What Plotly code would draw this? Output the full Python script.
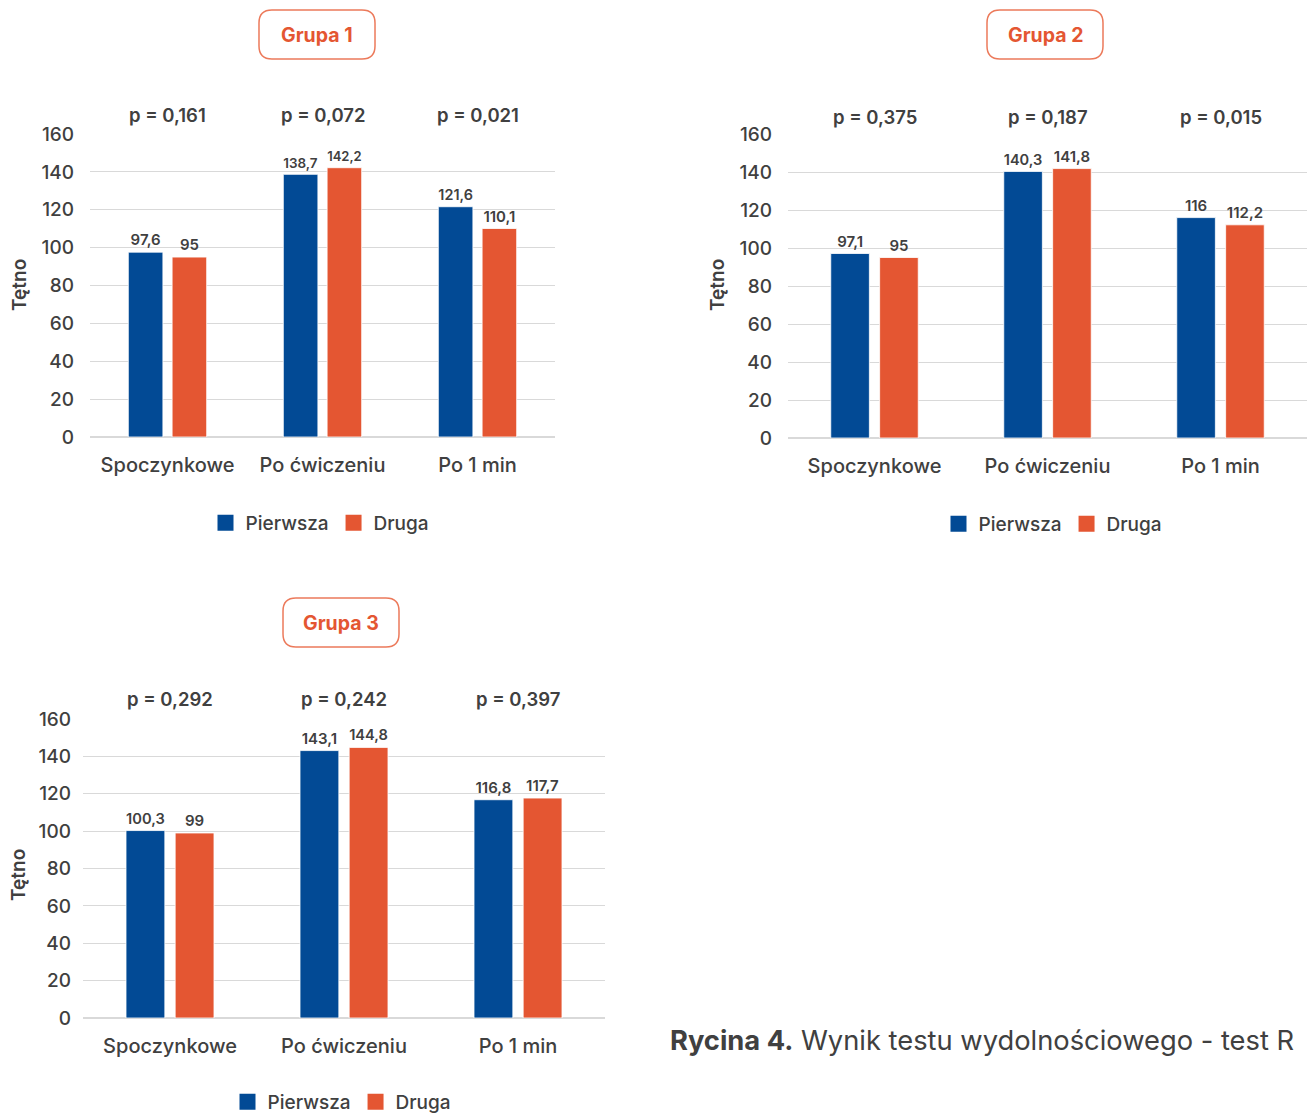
import plotly.graph_objects as go

W, H = 1307, 1113

categories = ["Spoczynkowe", "Po ćwiczeniu", "Po 1 min"]
series_names = ["Pierwsza", "Druga"]

g1_first = [97.6, 138.7, 121.6]
g1_second = [95, 142.2, 110.1]
g2_first = [97.1, 140.3, 116]
g2_second = [95, 141.8, 112.2]
g3_first = [100.3, 143.1, 116.8]
g3_second = [99, 144.8, 117.7]

p1 = ["0,161", "0,072", "0,021"]
p2 = ["0,375", "0,187", "0,015"]
p3 = ["0,292", "0,242", "0,397"]

group_titles = ["Grupa 1", "Grupa 2", "Grupa 3"]
y_ticks = [0, 20, 40, 60, 80, 100, 120, 140, 160]
y_title = "Tętno"
caption_bold = "Rycina 4."
caption_rest = " Wynik testu wydolnościowego - test R"

BLUE = "#024A95"
ORANGE = "#E45632"
TXT = "#404040"
GRID = "#D9D9D9"
FONT = "Inter"


def fmt(v):
    s = ("%g" % v)
    return s.replace(".", ",")


def px_x(p):
    return p / W


def px_y(p):
    return 1 - p / H


def rrect(x0, y0, x1, y1, r):
    pts = [
        ("M", [(x0 + r, y0)]),
        ("L", [(x1 - r, y0)]),
        ("Q", [(x1, y0), (x1, y0 + r)]),
        ("L", [(x1, y1 - r)]),
        ("Q", [(x1, y1), (x1 - r, y1)]),
        ("L", [(x0 + r, y1)]),
        ("Q", [(x0, y1), (x0, y1 - r)]),
        ("L", [(x0, y0 + r)]),
        ("Q", [(x0, y0), (x0 + r, y0)]),
    ]
    s = ""
    for cmd, cs in pts:
        s += cmd + " " + " ".join("%.5f,%.5f" % (px_x(a), px_y(b)) for a, b in cs) + " "
    return s + "Z"


panels = [
    dict(first=g1_first, second=g1_second, p=p1, title=group_titles[0],
         xd=(90, 555), yd=(437, 134), box=(259, 10, 375, 59), py=115, ystand=15,
         ytitle=(19, 285), legend="legend", leg=(320, 523), xs="x", ys="y", sfx=""),
    dict(first=g2_first, second=g2_second, p=p2, title=group_titles[1],
         xd=(788, 1307), yd=(438, 134), box=(987, 10, 1103, 59), py=117, ystand=15,
         ytitle=(717, 285), legend="legend2", leg=(1053, 524), xs="x2", ys="y2", sfx="2"),
    dict(first=g3_first, second=g3_second, p=p3, title=group_titles[2],
         xd=(83, 605), yd=(1018, 719), box=(283, 598, 399, 647), py=699, ystand=11,
         ytitle=(18, 875), legend="legend3", leg=(342, 1102), xs="x3", ys="y3", sfx="3"),
]

fig = go.Figure()
shapes = []
annotations = []
layout_extra = {}

for pn in panels:
    for name, vals, col in ((series_names[0], pn["first"], BLUE), (series_names[1], pn["second"], ORANGE)):
        fig.add_trace(go.Bar(
            x=categories, y=vals, name=name, marker=dict(color=col, line=dict(color="white", width=0.8)),
            text=[fmt(v) for v in vals], textposition="outside", cliponaxis=False,
            textfont=dict(family=FONT, size=15, color=TXT, weight=600),
            xaxis=pn["xs"], yaxis=pn["ys"], showlegend=False, hoverinfo="x+y+name",
        ))
        fig.add_trace(go.Scatter(
            x=[None], y=[None], mode="markers", name=name,
            marker=dict(symbol="square", size=16, color=col),
            xaxis=pn["xs"], yaxis=pn["ys"], legend=pn["legend"], showlegend=True,
        ))
    xdom = [px_x(pn["xd"][0]), px_x(pn["xd"][1])]
    ydom = [px_y(pn["yd"][0]), px_y(pn["yd"][1])]
    layout_extra["xaxis" + pn["sfx"]] = dict(
        domain=xdom, type="category", range=[-0.5, 2.5], anchor=pn["ys"],
        showgrid=False, showline=False, zeroline=False, ticks="",
        tickfont=dict(family=FONT, size=20, color=TXT, weight=500), ticklabelstandoff=14,
    )
    layout_extra["yaxis" + pn["sfx"]] = dict(
        domain=ydom, range=[0, 160], tickvals=y_ticks, anchor=pn["xs"],
        showgrid=True, gridcolor=GRID, gridwidth=1, zeroline=True, zerolinecolor=GRID,
        showline=False, ticks="",
        tickfont=dict(family=FONT, size=19, color=TXT, weight=500), ticklabelstandoff=pn["ystand"],
    )
    # p-values above categories
    for c, pv in zip(categories, pn["p"]):
        annotations.append(dict(
            x=c, xref=pn["xs"], y=px_y(pn["py"]), yref="paper", text="p = " + pv,
            showarrow=False, xanchor="center", yanchor="middle",
            font=dict(family=FONT, size=18.5, color=TXT, weight=600),
        ))
    # group title box
    bx0, by0, bx1, by1 = pn["box"]
    shapes.append(dict(type="path", path=rrect(bx0, by0, bx1, by1, 13), xref="paper", yref="paper",
                       line=dict(color="#EC7A5B", width=1.5), fillcolor="rgba(0,0,0,0)"))
    annotations.append(dict(
        x=px_x((bx0 + bx1) / 2), y=px_y((by0 + by1) / 2), xref="paper", yref="paper",
        text=pn["title"], showarrow=False, xanchor="center", yanchor="middle",
        font=dict(family=FONT, size=19.5, color=ORANGE, weight=700),
    ))
    # y title
    annotations.append(dict(
        x=px_x(pn["ytitle"][0]), y=px_y(pn["ytitle"][1]), xref="paper", yref="paper",
        text=y_title, showarrow=False, textangle=-90, xanchor="center", yanchor="middle",
        font=dict(family=FONT, size=19, color=TXT, weight=600),
    ))
    layout_extra[pn["legend"]] = dict(
        orientation="h", x=px_x(pn["leg"][0]), y=px_y(pn["leg"][1]),
        xanchor="center", yanchor="middle", bgcolor="rgba(0,0,0,0)",
        font=dict(family=FONT, size=19, color=TXT, weight=500), itemclick=False,
    )

annotations.append(dict(
    x=px_x(668), y=px_y(1040), xref="paper", yref="paper", xanchor="left", yanchor="middle",
    text="<b>" + caption_bold + "</b>" + caption_rest, showarrow=False,
    font=dict(family=FONT, size=27.3, color=TXT, weight=400),
))

fig.update_layout(
    width=W, height=H, margin=dict(l=0, r=0, t=0, b=0, autoexpand=False),
    paper_bgcolor="white", plot_bgcolor="white",
    barmode="group", bargap=0.435, bargroupgap=0.21,
    font=dict(family=FONT, color=TXT),
    shapes=shapes, annotations=annotations,
    **layout_extra,
)

fig.write_html("out.html")
